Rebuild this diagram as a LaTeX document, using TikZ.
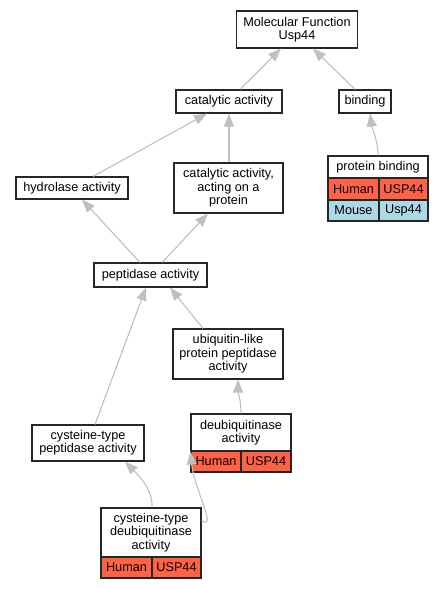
\documentclass[tikz,border=0pt]{standalone}
\usepackage{fontspec}
\setmainfont{Liberation Sans}
\usetikzlibrary{arrows.meta}
\definecolor{tomatoc}{HTML}{FF6347}
\definecolor{lblue}{HTML}{ADD8E6}
\definecolor{edgec}{HTML}{C0C0C0}
\tikzset{
  box/.style={draw=black!85, line width=1.1pt, fill=white, align=center, inner sep=0pt,
    font=\fontsize{12.7}{13.3}\selectfont},
  hum/.style={box, fill=tomatoc},
  mou/.style={box, fill=lblue},
  edge/.style={draw=edgec, line width=1.1pt, -{Triangle[length=13pt,width=10pt,fill=edgec]}}
}
\begin{document}
\begin{tikzpicture}[x=1pt,y=-1pt]
\useasboundingbox (0,0) rectangle (443,589);
% simple boxes
\node[box, minimum width=121pt, minimum height=37pt] (mf) at (297,29.5) {Molecular Function\\Usp44};
\node[box, minimum width=106pt, minimum height=23pt] (cat) at (229,101.5) {catalytic activity};
\node[box, minimum width=52pt, minimum height=23pt] (bind) at (365,101.5) {binding};
\node[box, minimum width=112pt, minimum height=22pt] (hyd) at (72,188) {hydrolase activity};
\node[box, minimum width=109pt, minimum height=50pt] (cap) at (228.5,188) {catalytic activity,\\acting on a\\protein};
\node[box, minimum width=113pt, minimum height=24pt] (pep) at (150.5,275) {peptidase activity};
\node[box, minimum width=110pt, minimum height=50pt] (ubl) at (228,354) {ubiquitin-like\\protein peptidase\\activity};
\node[box, minimum width=112pt, minimum height=36pt] (cpep) at (88,443) {cysteine-type\\peptidase activity};
% protein binding table
\node[box, minimum width=100pt, minimum height=22pt] (pb) at (378,167) {protein binding};
\node[hum, minimum width=51pt, minimum height=22pt] (pbh) at (353.5,189) {Human};
\node[hum, minimum width=49pt, minimum height=22pt] (pbg) at (403.5,189) {USP44};
\node[mou, minimum width=51pt, minimum height=21pt] (pbm) at (353.5,210.5) {Mouse};
\node[mou, minimum width=49pt, minimum height=21pt] (pbu) at (403.5,210.5) {Usp44};
% deubiquitinase table
\node[box, minimum width=100pt, minimum height=37pt] (dub) at (241,432.5) {deubiquitinase\\activity};
\node[hum, minimum width=50pt, minimum height=21pt] (dubh) at (216,461.5) {Human};
\node[hum, minimum width=50pt, minimum height=21pt] (dubg) at (266,461.5) {USP44};
% cysteine-type deubiquitinase table
\node[box, minimum width=100pt, minimum height=49pt] (cdub) at (151,532.5) {cysteine-type\\deubiquitinase\\activity};
\node[hum, minimum width=51pt, minimum height=21pt] (cdubh) at (126.5,567.5) {Human};
\node[hum, minimum width=49pt, minimum height=21pt] (cdubg) at (176.5,567.5) {USP44};
% edges
\draw[edge] ([xshift=11pt]cat.north) -- ([xshift=-16pt]mf.south);
\draw[edge] ([xshift=-10pt]bind.north) -- ([xshift=16pt]mf.south);
\draw[edge] ([xshift=0pt]pb.north) .. controls (378,140) and (372,128) .. ([xshift=5pt]bind.south);
\draw[edge] ([xshift=21pt]hyd.north) -- ([xshift=-22pt]cat.south);
\draw[edge] ([xshift=0.5pt]cap.north) -- (cat.south);
\draw[edge] ([xshift=-10.5pt]pep.north) -- ([xshift=10pt]hyd.south);
\draw[edge] ([xshift=11.5pt]pep.north) -- ([xshift=-20.5pt]cap.south);
\draw[edge] ([xshift=-25pt]ubl.north) -- ([xshift=19.5pt]pep.south);
\draw[edge] ([xshift=7pt]cpep.north) -- ([xshift=-4.5pt]pep.south);
\draw[edge] ([xshift=0pt]dub.north) .. controls (241,400) and (238,392) .. ([xshift=10pt]ubl.south);
\draw[edge] ([xshift=1pt]cdub.north) .. controls (153,490) and (140,477) .. ([xshift=37pt]cpep.south);
\draw[edge] ([yshift=12pt]cdub.east) .. controls (218,531) and (194,488) .. ([yshift=10pt]dubh.west);
\end{tikzpicture}
\end{document}
